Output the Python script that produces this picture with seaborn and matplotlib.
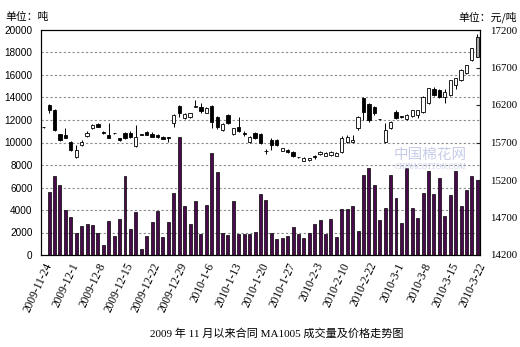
import matplotlib
matplotlib.use("Agg")
import matplotlib.pyplot as plt
import numpy as np
import pandas as pd
import seaborn as sns

# ---------------- data ----------------
date_labels = ["2009-11-24", "2009-12-1", "2009-12-8", "2009-12-15", "2009-12-22",
               "2009-12-29", "2010-1-6", "2010-1-13", "2010-1-20", "2010-1-27",
               "2010-2-3", "2010-2-10", "2010-2-22", "2010-3-1", "2010-3-8",
               "2010-3-15", "2010-3-22"]

volume = [0,
          5600, 7050, 6200, 4000, 3400, 1950, 2600, 2800, 2700, 1950,
          850, 3000, 1650, 3200, 7050, 2350, 3850, 550, 1700, 2950,
          3900, 1600, 2950, 5500, 10450, 4350, 2750, 4800, 1900, 4450,
          9100, 7350, 1950, 1800, 4800, 1900, 1900, 1900, 2050, 5450,
          4850, 1950, 1450, 1500, 1650, 2450, 1850, 1550, 1950, 2800,
          3150, 1850, 3200, 1600, 4100, 4100, 4350, 2150, 7150, 7750,
          6200, 3100, 4200, 7150, 5050, 2850, 7750, 4200, 3300, 5500,
          7450, 5400, 6850, 3500, 5350, 7500, 4400, 5750, 7000, 6650]

price_open = [15905, 16200, 16133, 15809, 15800, 15711, 15503, 15667, 15787, 15889,
              15947, 15844, 15800, 15822, 15756, 15831, 15831, 15653, 15800, 15844,
              15813, 15800, 15778, 15767, 15956, 16187, 16022, 16036, 16180, 16169,
              16097, 16187, 16036, 15867, 16067, 15813, 15907, 15820, 15707, 15827,
              15813, 15590, 15733, 15733, 15591, 15600, 15578, 15502, 15460, 15467,
              15507, 15543, 15520, 15533, 15520, 15578, 15711, 15711, 15893, 16289,
              16213, 16169, 16009, 15711, 15893, 16111, 16044, 16009, 16053, 16067,
              16111, 16222, 16409, 16400, 16311, 16333, 16467, 16533, 16622, 16800,
              16844]
price_close = [15905, 16133, 15867, 15733, 15760, 15600, 15600, 15711, 15831, 15933,
               15911, 15822, 15765, 15822, 15733, 15756, 15778, 15778, 15800, 15800,
               15778, 15773, 15751, 15760, 16067, 16097, 16080, 16089, 16187, 16124,
               16160, 15973, 15911, 15947, 15956, 15893, 15853, 15815, 15778, 15760,
               15693, 15585, 15667, 15667, 15622, 15573, 15520, 15502, 15500, 15493,
               15507, 15578, 15564, 15578, 15564, 15756, 15778, 15733, 16044, 16111,
               16000, 16089, 16009, 15867, 15973, 16022, 16044, 16067, 16133, 16133,
               16311, 16422, 16333, 16302, 16378, 16533, 16556, 16667, 16733, 16956,
               17111]
price_high = [15910, 16210, 16150, 15820, 15893, 15720, 15667, 15730, 15850, 15950,
              15955, 15850, 15960, 15830, 15765, 15840, 15860, 15933, 15805, 15850,
              15840, 15815, 15785, 15778, 16080, 16200, 16090, 16100, 16267, 16227,
              16170, 16200, 16050, 15955, 16075, 15900, 16040, 15850, 15790, 15835,
              15825, 15620, 15760, 15745, 15630, 15610, 15585, 15510, 15508, 15500,
              15530, 15590, 15575, 15590, 15575, 15787, 15800, 15800, 16060, 16311,
              16230, 16190, 16020, 15960, 15990, 16140, 16060, 16075, 16140, 16140,
              16320, 16430, 16440, 16420, 16420, 16540, 16565, 16675, 16740, 16965,
              17150]
price_low = [15900, 16090, 15860, 15720, 15760, 15590, 15490, 15660, 15780, 15880,
             15905, 15815, 15760, 15815, 15725, 15750, 15760, 15640, 15795, 15795,
             15770, 15765, 15745, 15711, 15911, 16044, 16015, 16030, 16170, 16093,
             16090, 15893, 15880, 15860, 15950, 15805, 15840, 15790, 15700, 15750,
             15685, 15553, 15600, 15660, 15585, 15565, 15510, 15495, 15455, 15460,
             15485, 15535, 15515, 15525, 15515, 15560, 15700, 15690, 15870, 16000,
             15980, 16070, 16000, 15700, 15885, 16015, 16030, 16000, 16045, 16030,
             16100, 16210, 16325, 16295, 16227, 16325, 16420, 16525, 16615, 16790,
             16835]

# ---------------- style ----------------
sns.set_theme(style="white")
plt.rcParams["font.family"] = ["Liberation Sans", "Noto Sans CJK SC"]
plt.rcParams["axes.edgecolor"] = "black"

W, H = 520, 347
fig = plt.figure(figsize=(W / 100, H / 100), dpi=100)
L, R, T, B = 41, 480, 30, 255
ax = fig.add_axes([L / W, 1 - B / H, (R - L) / W, (B - T) / H])

n = len(volume)
df = pd.DataFrame({"idx": list(range(n)), "vol": volume})
sns.barplot(data=df, x="idx", y="vol", order=list(range(n)), ax=ax,
            color="#4a0a4e", saturation=1, width=0.55,
            edgecolor="black", linewidth=0.5)

ax.set_xlim(-0.5, n - 0.5)
ax.set_ylim(0, 20000)
ax.set_yticks(range(0, 20001, 2000))
ax.set_yticklabels([str(v) for v in range(0, 20001, 2000)],
                   fontfamily="Liberation Sans", fontsize=7.2, color="black")
ax.set_axisbelow(True)
for v in range(2000, 20000, 2000):
    ax.axhline(v, color="#8a8a8a", lw=0.8, ls=(0, (2, 2)), zorder=0)
ax.set_xticks(range(0, n, 5))
ax.set_xticklabels(date_labels, rotation=65, ha="right", rotation_mode="anchor",
                   fontfamily="Liberation Serif", fontsize=8.3, color="black")
ax.tick_params(axis="x", length=0, pad=4)
ax.tick_params(axis="y", length=0, pad=6)
ax.set_xlabel("")
ax.set_ylabel("")
for s in ax.spines.values():
    s.set_color("black")
    s.set_linewidth(0.8)

# candles on secondary axis
ax2 = ax.twinx()
ax2.set_ylim(14200, 17200)
ax2.set_yticks(range(14200, 17201, 500))
ax2.set_yticklabels([str(v) for v in range(14200, 17201, 500)],
                    fontfamily="Liberation Serif", fontsize=7.8, color="black")
ax2.tick_params(axis="y", direction="in", length=3, width=0.8, pad=7, right=True)
for s in ax2.spines.values():
    s.set_color("black")
    s.set_linewidth(0.8)

x = np.arange(n)
o = np.array(price_open, float)
c = np.array(price_close, float)
hi = np.array(price_high, float)
lo = np.array(price_low, float)
ax2.vlines(x, lo, hi, color="black", lw=0.7, zorder=3)
bottom = np.minimum(o, c)
height = np.maximum(np.abs(c - o), 8)
fills = ["white" if cc > oo else "black" for oo, cc in zip(o, c)]
fills[-1] = "#a8a8a8"
ax2.bar(x, height, bottom=bottom, width=0.6, color=fills,
        edgecolor="black", linewidth=0.6, zorder=4)
ax2.grid(False)

# texts
cjk = ["Noto Sans CJK SC", "DejaVu Sans"]
fig.text(5 / W, 1 - 17 / H, "单位：吨", fontsize=7.8, family=cjk,
         ha="left", va="center", color="black")
fig.text(517 / W, 1 - 17 / H, "单位：元/吨", fontsize=7.8, family=cjk,
         ha="right", va="center", color="black")
fig.text(277 / W, 1 - 334 / H, "2009 年 11 月以来合同 MA1005 成交量及价格走势图",
         fontsize=8, family=["Liberation Serif", "Noto Sans CJK SC"],
         ha="center", va="center", color="black")
# faint watermark
fig.text(430 / W, 1 - 155 / H, "中国棉花网", fontsize=10.5, family=cjk,
         ha="center", va="center", color="#b9c0e3", alpha=0.8, zorder=0)
fig.text(430 / W, 1 - 167 / H, "CHINACOTTON.COM", fontsize=5.5,
         family=["Liberation Serif"], style="italic",
         ha="center", va="center", color="#b9c0e3", alpha=0.8, zorder=0)

fig.savefig("out.png", dpi=100)
